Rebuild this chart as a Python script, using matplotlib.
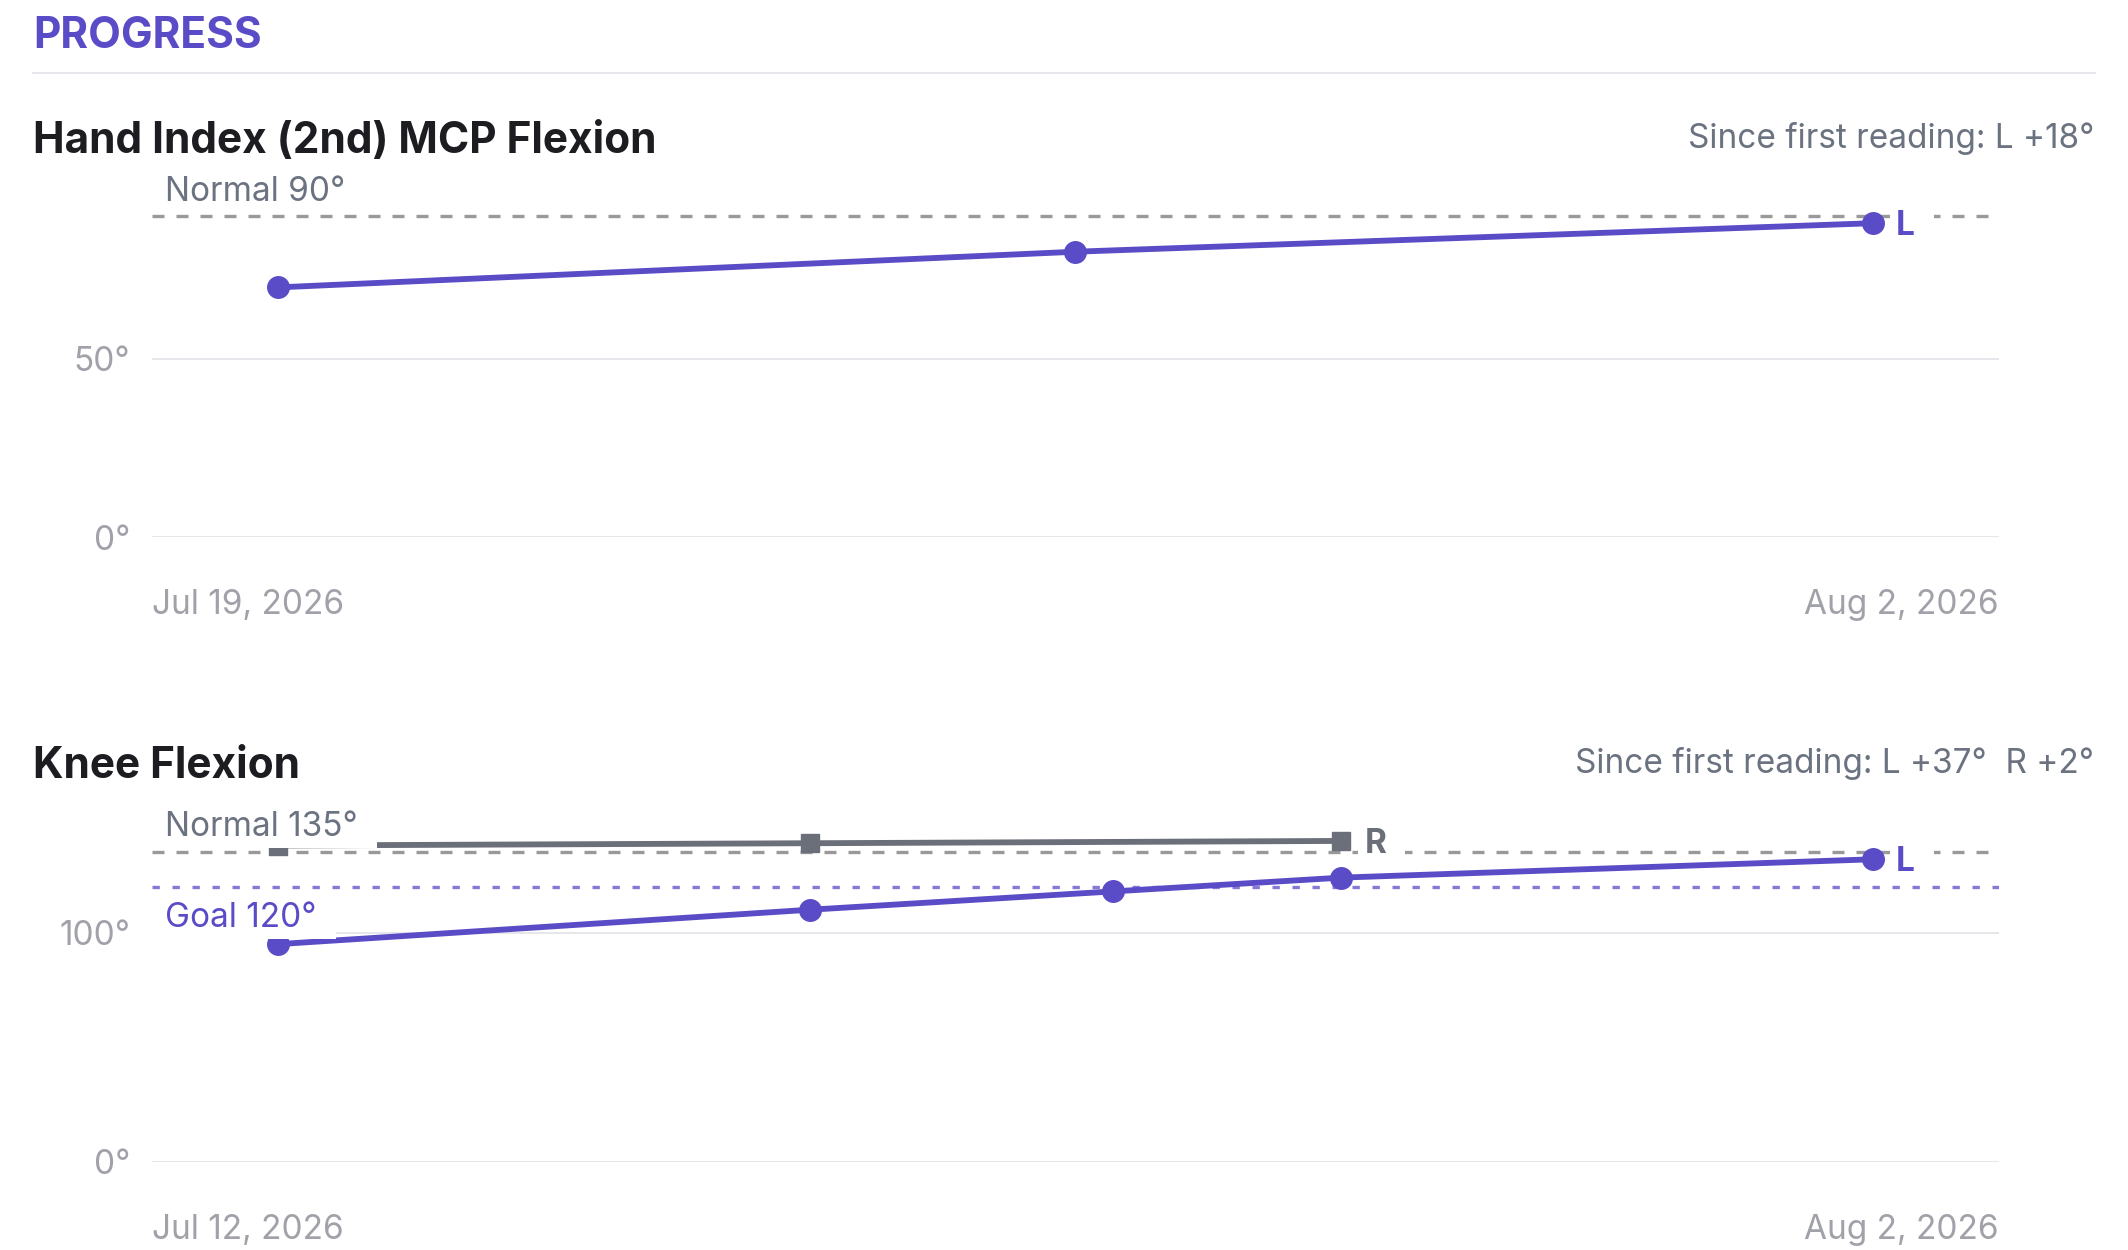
import matplotlib
matplotlib.use('Agg')
import matplotlib.pyplot as plt
from matplotlib.patches import Rectangle
from matplotlib.lines import Line2D
from matplotlib.transforms import IdentityTransform
import pandas as pd

plt.rcParams['font.family'] = ['Inter', 'DejaVu Sans']

# ---------------- data ----------------
section_title = "PROGRESS"

hand_title = "Hand Index (2nd) MCP Flexion"
hand_dates = ["2026-07-19", "2026-07-26", "2026-08-02"]
hand_left = [70, 80, 88]
hand_normal = 90
hand_yticks = [0, 50]
hand_ymax = 100

knee_title = "Knee Flexion"
knee_left_dates = ["2026-07-12", "2026-07-19", "2026-07-23", "2026-07-26", "2026-08-02"]
knee_left = [95, 110, 118, 124, 132]
knee_right_dates = ["2026-07-12", "2026-07-19", "2026-07-26"]
knee_right = [138, 139, 140]
knee_normal = 135
knee_goal = 120
knee_yticks = [0, 100]
knee_ymax = 150

# ---------------- style ----------------
PURPLE = '#5a4bc6'
GRAY_SERIES = '#6b6f7a'
REF_GRAY = '#999999'
GOAL_PURPLE = '#8579d6'
GRID = '#e3e5e9'
TICK = '#a1a1aa'
LABEL_GRAY = '#6b7280'
TITLE = '#1c1c21'

W, H = 2128, 1250
DPI = 100
fig = plt.figure(figsize=(W / DPI, H / DPI), dpi=DPI)
fig.patch.set_facecolor('white')

LABEL_FS = 24
TITLE_FS = 30.5


def add_axes_px(l, t, r, b):
    return fig.add_axes([l / W, 1 - b / H, (r - l) / W, (b - t) / H])


def fmt_date(d):
    return f"{d:%b} {d.day}, {d.year}"


def style(ax, ymax, yticks):
    ax.set_ylim(0, ymax)
    ax.margins(x=0.0791)
    for s in ax.spines.values():
        s.set_visible(False)
    ax.set_xticks([])
    ax.set_yticks(yticks)
    ax.set_yticklabels([f"{v}°" for v in yticks])
    ax.tick_params(axis='y', length=0, pad=22 * 0.72, labelsize=LABEL_FS, labelcolor=TICK)
    ax.grid(axis='y', color=GRID, lw=1.3)
    ax.set_axisbelow(True)
    ax.patch.set_alpha(0)


bg_items = []  # (text artist, ax, pad_left, pad_right, pad_top, pad_bottom)


def ref_label(ax, text, yval, dy, color, weight='normal'):
    t = ax.annotate(text, xy=(0, yval), xycoords=ax.get_yaxis_transform(),
                    xytext=(13, dy), textcoords='offset pixels',
                    ha='left', va='baseline', fontsize=LABEL_FS, color=color,
                    fontweight=weight, zorder=6, annotation_clip=False)
    bg_items.append((t, ax, 14, 19, 4, 5))
    return t


def end_label(ax, text, x, y, color):
    t = ax.annotate(text, xy=(x, y), xycoords='data', xytext=(23, -12),
                    textcoords='offset pixels', ha='left', va='baseline',
                    fontsize=LABEL_FS, color=color, fontweight='bold', zorder=6,
                    annotation_clip=False)
    bg_items.append((t, ax, 6, 19, 4, 5))
    return t


def date_labels(ax, dates):
    ax.annotate(fmt_date(dates[0]), xy=(0, 0), xycoords='axes fraction',
                xytext=(0, -77), textcoords='offset pixels', ha='left', va='baseline',
                fontsize=LABEL_FS, color=TICK)
    ax.annotate(fmt_date(dates[-1]), xy=(1, 0), xycoords='axes fraction',
                xytext=(0, -77), textcoords='offset pixels', ha='right', va='baseline',
                fontsize=LABEL_FS, color=TICK)


# ---------------- header ----------------
fig.text(33 / W, 1 - 47.8 / H, section_title, color=PURPLE, fontsize=TITLE_FS,
         fontweight='bold', va='baseline', ha='left')
fig.add_artist(Line2D([33 / W, 2095 / W], [1 - 73 / H, 1 - 73 / H], color=GRID, lw=1.3))

# ---------------- chart 1 ----------------
hd = pd.to_datetime(hand_dates)
fig.text(33 / W, 1 - 153.4 / H, hand_title, color=TITLE, fontsize=TITLE_FS,
         fontweight='bold', va='baseline', ha='left')
fig.text(2094 / W, 1 - 148.3 / H,
         f"Since first reading: L {hand_left[-1] - hand_left[0]:+d}°",
         color=LABEL_GRAY, fontsize=LABEL_FS, va='baseline', ha='right')

ax1 = add_axes_px(152, 180.4, 1999, 537)
style(ax1, hand_ymax, hand_yticks)
ax1.axhline(hand_normal, color=REF_GRAY, lw=2.4, dashes=(3.6, 3.6), zorder=1)
ax1.plot(hd, hand_left, color=PURPLE, lw=4.2, marker='o', ms=15.5,
         solid_capstyle='round', zorder=3, clip_on=False)
ref_label(ax1, f"Normal {hand_normal}°", hand_normal, 15, LABEL_GRAY)
end_label(ax1, "L", hd[-1], hand_left[-1], PURPLE)
date_labels(ax1, hd)

# ---------------- chart 2 ----------------
kld = pd.to_datetime(knee_left_dates)
krd = pd.to_datetime(knee_right_dates)
fig.text(33 / W, 1 - 778 / H, knee_title, color=TITLE, fontsize=TITLE_FS,
         fontweight='bold', va='baseline', ha='left')
fig.text(2094 / W, 1 - 773 / H,
         f"Since first reading: L {knee_left[-1] - knee_left[0]:+d}°  "
         f"R {knee_right[-1] - knee_right[0]:+d}°",
         color=LABEL_GRAY, fontsize=LABEL_FS, va='baseline', ha='right')

ax2 = add_axes_px(152, 818, 1999, 1162)
style(ax2, knee_ymax, knee_yticks)
ax2.axhline(knee_normal, color=REF_GRAY, lw=2.4, dashes=(3.6, 3.6), zorder=1)
ax2.axhline(knee_goal, color=GOAL_PURPLE, lw=2.4, dashes=(2.2, 3.8), zorder=1)
ax2.plot(krd, knee_right, color=GRAY_SERIES, lw=4.2, marker='s', ms=12.5,
         solid_capstyle='butt', zorder=2.5, clip_on=False)
ax2.plot(kld, knee_left, color=PURPLE, lw=4.2, marker='o', ms=15.5,
         solid_capstyle='round', zorder=3, clip_on=False)
ref_label(ax2, f"Normal {knee_normal}°", knee_normal, 16.6, LABEL_GRAY)
ref_label(ax2, f"Goal {knee_goal}°", knee_goal, -40, PURPLE)
end_label(ax2, "R", krd[-1], knee_right[-1], GRAY_SERIES)
end_label(ax2, "L", kld[-1], knee_left[-1], PURPLE)
date_labels(ax2, kld)

# ---------------- label backgrounds ----------------
fig.canvas.draw()
renderer = fig.canvas.get_renderer()
for t, ax, pl, pr, pt, pb in bg_items:
    ext = t.get_window_extent(renderer)
    rect = Rectangle((ext.x0 - pl, ext.y0 - pb), ext.width + pl + pr, ext.height + pt + pb,
                     transform=IdentityTransform(), facecolor='white', edgecolor='none',
                     zorder=5, clip_on=False)
    ax.add_artist(rect)

fig.savefig('out.png', dpi=DPI, facecolor='white')
